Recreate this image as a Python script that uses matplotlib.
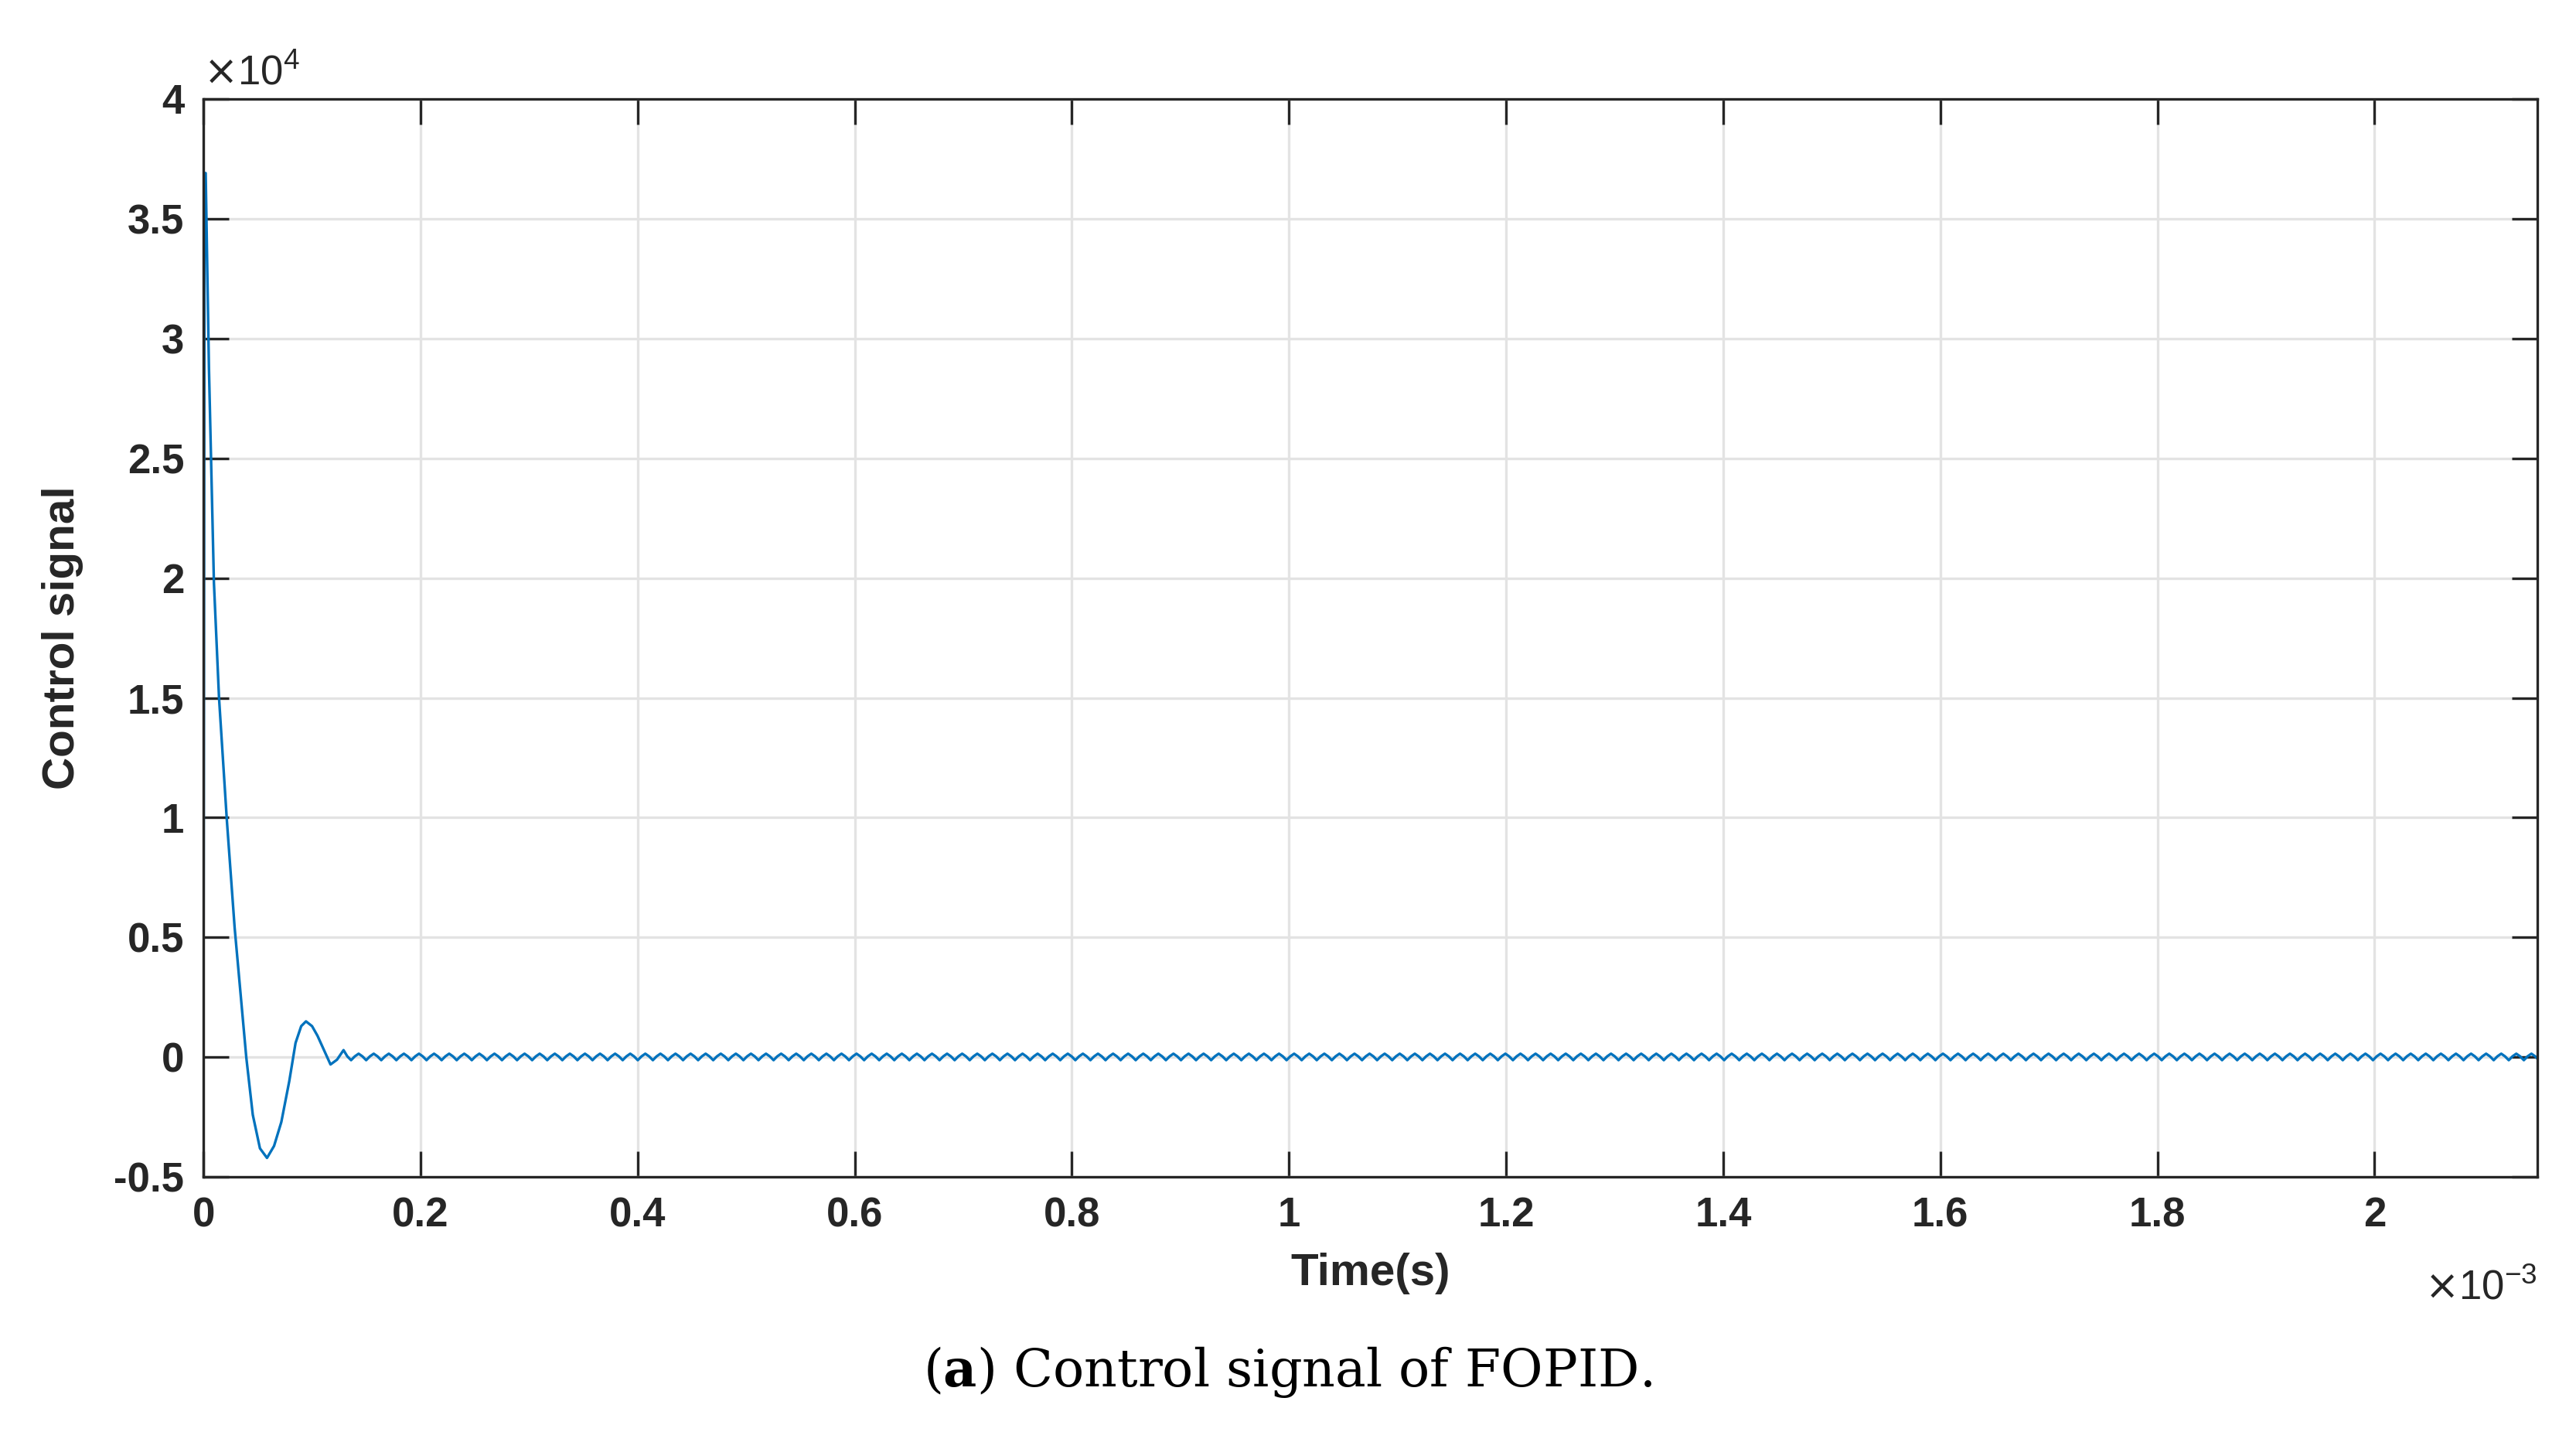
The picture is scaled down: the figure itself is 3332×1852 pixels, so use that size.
import numpy as np
import matplotlib.pyplot as plt

plt.rcParams['font.family'] = ['Liberation Sans', 'DejaVu Sans']

# transient part of the control signal (time in 1e-3 s, value in 1e4)
t_trans = [0.0, 0.001, 0.002, 0.005, 0.0096, 0.0143, 0.0215, 0.0287, 0.0394, 0.0454,
           0.0520, 0.0585, 0.0650, 0.0717, 0.0790, 0.0848, 0.0900, 0.0944, 0.1000,
           0.1050, 0.1110, 0.1170, 0.1230, 0.1290]
u_trans = [0.30, 3.69, 3.69, 2.88, 1.98, 1.50, 0.99, 0.54, 0.00, -0.24,
           -0.38, -0.42, -0.37, -0.27, -0.10, 0.06, 0.13, 0.15, 0.13,
           0.09, 0.03, -0.03, -0.01, 0.03]

# one ripple cycle of the steady state (repeats until the end)
ripple_period = 0.0139
ripple_cycle = [0.015, 0.004, -0.012, 0.004]
t_end = 2.15

fig = plt.figure(figsize=(16.66, 9.26), dpi=200)
ax = fig.add_axes([0.079, 0.178, 0.906, 0.753])

n_cyc = int((t_end - t_trans[-1]) / ripple_period) + 1
t_rip = t_trans[-1] + np.arange(1, n_cyc * len(ripple_cycle) + 1) * ripple_period / len(ripple_cycle)
u_rip = np.tile(ripple_cycle, n_cyc)[1:]
u_rip = np.append(u_rip, ripple_cycle[0])
t = np.concatenate([t_trans, t_rip]) * 1e-3
u = np.concatenate([u_trans, u_rip]) * 1e4

ax.plot(t, u, color='#0072BD', lw=1.2)
ax.set_xlim(0, t_end * 1e-3)
ax.set_ylim(-0.5e4, 4e4)
ax.set_xticks(np.arange(0, 2.01, 0.2) * 1e-3)
ax.set_xticklabels(['0', '0.2', '0.4', '0.6', '0.8', '1', '1.2', '1.4', '1.6', '1.8', '2'])
ax.set_yticks(np.arange(-0.5, 4.01, 0.5) * 1e4)
ax.set_yticklabels(['-0.5', '0', '0.5', '1', '1.5', '2', '2.5', '3', '3.5', '4'])
ax.grid(True, color='#e3e3e3', lw=1.2)
ax.tick_params(direction='in', length=12, width=1.2, labelsize=19, pad=9,
               top=True, right=True, colors='#262626')
for lab in ax.get_xticklabels() + ax.get_yticklabels():
    lab.set_fontweight('bold')
for s in ax.spines.values():
    s.set_color('#262626')
    s.set_linewidth(1.2)

ax.set_xlabel('Time(s)', fontsize=21, fontweight='bold', color='#262626', labelpad=8)
ax.set_ylabel('Control signal', fontsize=21, fontweight='bold', color='#262626', labelpad=14)
ax.text(0.0, 1.005, r'$\times\mathregular{10^4}$', transform=ax.transAxes, fontsize=19, color='#262626', va='bottom')
ax.text(1.0, -0.085, r'$\times\mathregular{10^{-3}}$', transform=ax.transAxes, fontsize=19, color='#262626', ha='right', va='top')

fig.text(0.5, 0.042, r'($\mathbf{a}$) Control signal of FOPID.', ha='center', va='center',
         fontsize=24, family='DejaVu Serif', math_fontfamily='dejavuserif')

fig.savefig('out.png', dpi=200)
